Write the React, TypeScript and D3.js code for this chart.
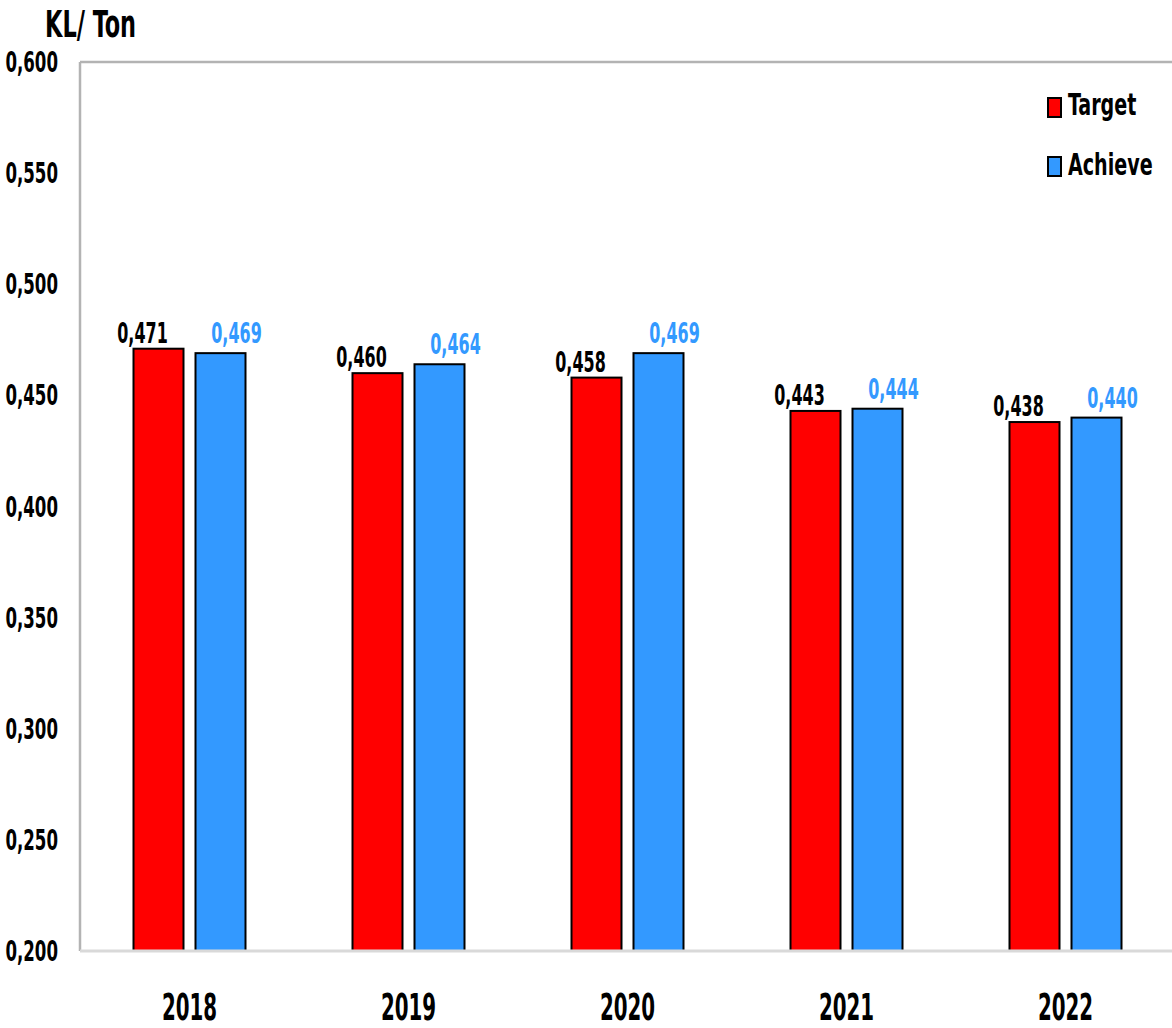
import React from "react";
import * as d3 from "d3";

const years = ["2018", "2019", "2020", "2021", "2022"];
const target = [0.471, 0.46, 0.458, 0.443, 0.438];
const achieve = [0.469, 0.464, 0.469, 0.444, 0.44];
const yTicks = [0.2, 0.25, 0.3, 0.35, 0.4, 0.45, 0.5, 0.55, 0.6];
const seriesNames = ["Target", "Achieve"];
const seriesColors = ["#FF0000", "#3399FF"];
const labelColors = ["#000000", "#3399FF"];

const W = 1172;
const H = 1028;
const left = 80;
const top = 62;
const bottom = 951;
const right = 1175;
const FONT = "'DejaVu Sans Condensed', 'Liberation Sans Narrow', sans-serif";

const fmt = (v: number) => d3.format(".3f")(v).replace(".", ",");

function STxt(props: { x: number; y: number; size: number; sx?: number; sy?: number; anchor?: string; fill?: string; children: any }) {
  const { x, y, size, sx = 0.76, sy = 1.25, anchor = "middle", fill = "#000", children } = props;
  return (
    <text
      transform={`translate(${x},${y}) scale(${sx},${sy})`}
      textAnchor={anchor as any}
      fontFamily={FONT}
      fontWeight="bold"
      fontSize={size}
      fill={fill}
    >
      {children}
    </text>
  );
}

export default function App() {
  const x = d3.scaleBand<string>().domain(years).range([left, right]).padding(0);
  const y = d3.scaleLinear().domain([0.2, 0.6]).range([bottom, top]);
  const barW = 50;
  const offs = [-31, 31];
  const labOffs = [-47, 47];
  const labGap = [6, 10];
  const data = [target, achieve];

  return (
    <svg width={W} height={H} style={{ position: "absolute", left: 0, top: 0, background: "#fff" }}>
      <rect x={0} y={0} width={W} height={H} fill="#fff" />
      <line x1={left} y1={top} x2={W} y2={top} stroke="#b3b3b3" strokeWidth={2.5} />
      <line x1={left} y1={top} x2={left} y2={bottom} stroke="#b3b3b3" strokeWidth={2.5} />
      {data.map((series, si) =>
        series.map((v, i) => {
          const cx = (x(years[i]) as number) + x.bandwidth() / 2 + offs[si];
          return (
            <rect
              key={`b${si}-${i}`}
              x={cx - barW / 2}
              y={y(v)}
              width={barW}
              height={bottom - y(v)}
              fill={seriesColors[si]}
              stroke="#000"
              strokeWidth={2}
            />
          );
        })
      )}
      <line x1={left} y1={bottom} x2={W} y2={bottom} stroke="#d9d9d9" strokeWidth={3} />
      {data.map((series, si) =>
        series.map((v, i) => {
          const cx = (x(years[i]) as number) + x.bandwidth() / 2 + labOffs[si];
          return (
            <STxt key={`l${si}-${i}`} x={cx} y={y(v) - labGap[si]} size={24} sx={0.74} sy={1.18} fill={labelColors[si]}>
              {fmt(v)}
            </STxt>
          );
        })
      )}
      {yTicks.map((t) => (
        <STxt key={`t${t}`} x={58} y={y(t) + 10} size={24} sx={0.77} sy={1.2} anchor="end">
          {fmt(t)}
        </STxt>
      ))}
      {years.map((yr) => (
        <STxt key={`x${yr}`} x={(x(yr) as number) + x.bandwidth() / 2} y={1020} size={29} sx={0.76} sy={1.3}>
          {yr}
        </STxt>
      ))}
      <STxt x={45} y={37} size={29} sx={0.86} sy={1.3} anchor="start">
        KL/ Ton
      </STxt>
      {seriesNames.map((n, i) => (
        <g key={`lg${n}`}>
          <rect x={1048} y={98 + i * 59} width={13} height={19} fill={seriesColors[i]} stroke="#000" strokeWidth={2} />
          <STxt x={1068} y={115 + i * 60} size={25} sx={0.85} sy={1.2} anchor="start">
            {n}
          </STxt>
        </g>
      ))}
    </svg>
  );
}
